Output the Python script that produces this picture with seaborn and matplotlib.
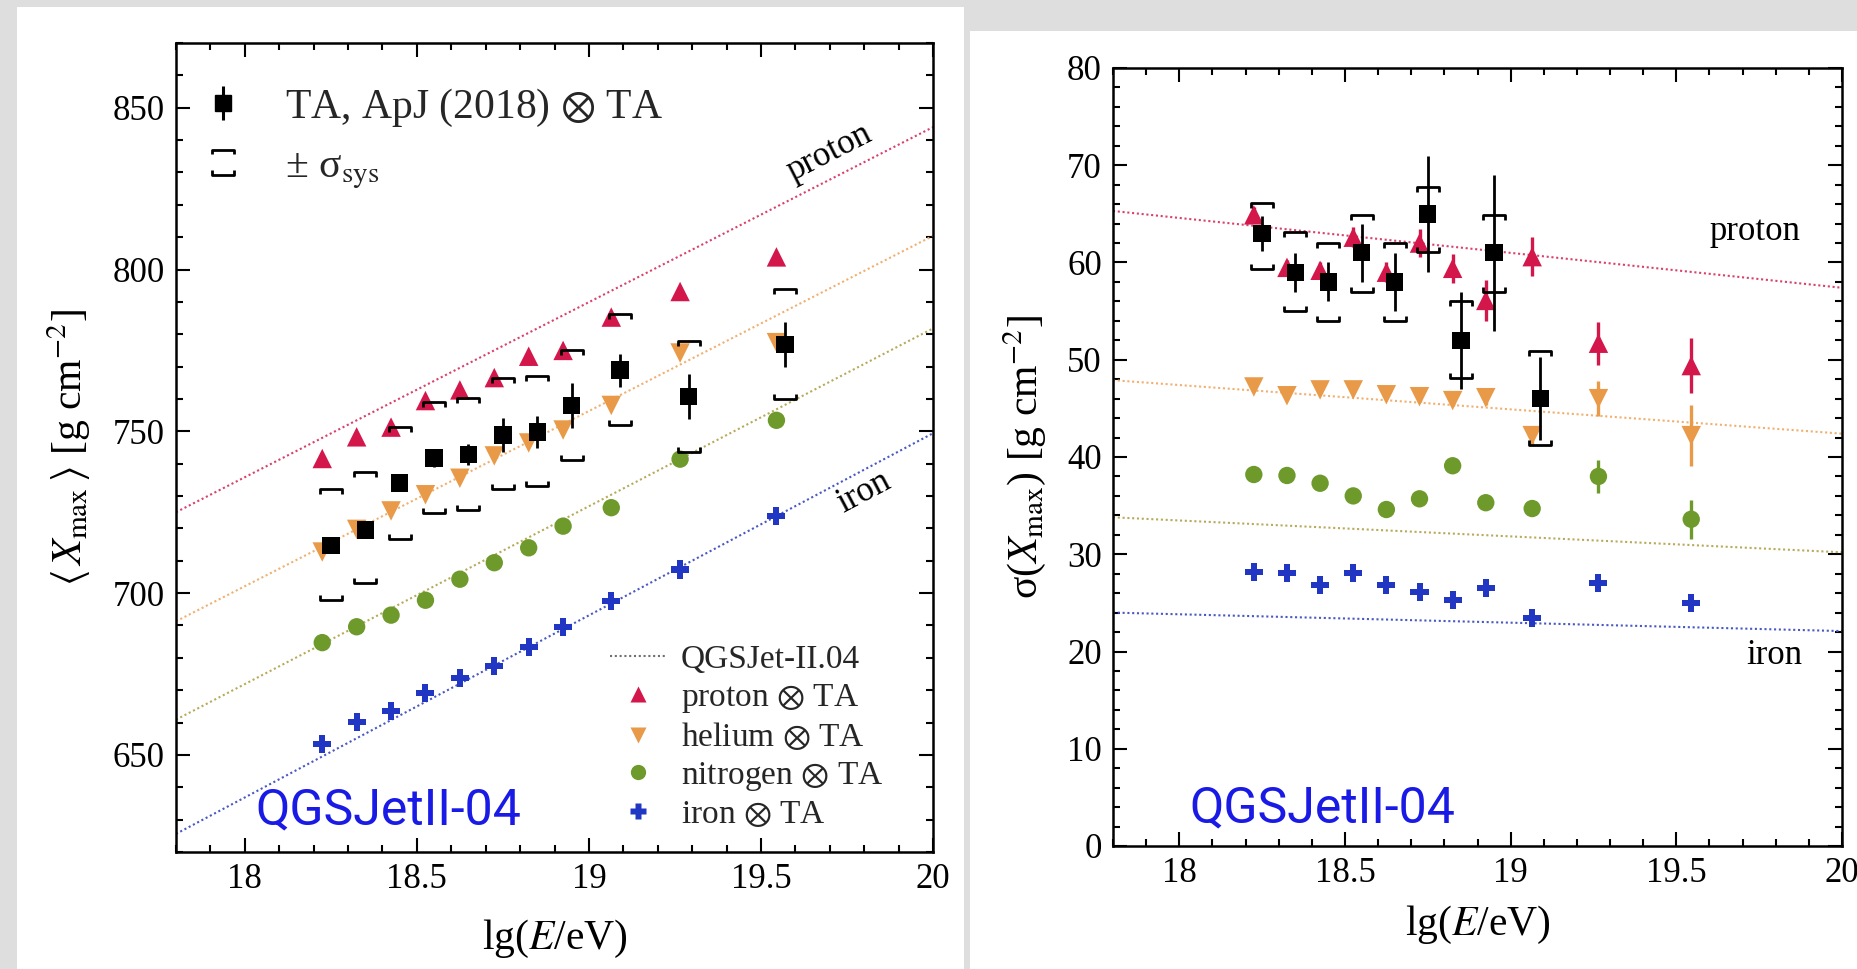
import numpy as np
import pandas as pd
import matplotlib
matplotlib.use("Agg")
import matplotlib.pyplot as plt
import seaborn as sns
from matplotlib.path import Path
from matplotlib.markers import MarkerStyle
from matplotlib.lines import Line2D
from matplotlib.legend_handler import HandlerTuple
from matplotlib.patches import Rectangle
from matplotlib.ticker import MultipleLocator, FuncFormatter

# ---------------- data ----------------
lgE_mc = [18.225, 18.325, 18.425, 18.525, 18.625, 18.725, 18.825, 18.925, 19.065, 19.265, 19.545]
lgE_ta = [18.25, 18.35, 18.45, 18.55, 18.65, 18.75, 18.85, 18.95, 19.09, 19.29, 19.57]

# <Xmax> panel
xmax_proton = [741.6, 748.3, 751.3, 759.5, 762.8, 766.6, 773.2, 775.0, 785.3, 793.2, 803.9]
xmax_helium = [712.7, 719.7, 725.4, 730.4, 735.5, 742.4, 746.4, 750.4, 758.0, 774.2, 777.4]
xmax_nitrogen = [684.7, 689.6, 693.2, 697.8, 704.3, 709.4, 714.0, 720.7, 726.4, 741.4, 753.4]
xmax_iron = [653.4, 660.3, 663.5, 669.0, 673.8, 677.4, 683.3, 689.4, 697.6, 707.3, 723.7]
xmax_ta = [714.8, 719.5, 734.0, 741.8, 742.8, 748.9, 749.8, 758.0, 768.9, 760.7, 776.9]
xmax_ta_stat = [2.0, 2.0, 2.0, 2.7, 3.2, 5.2, 5.0, 7.0, 5.1, 7.0, 7.0]
xmax_ta_sys_up = [17.5, 18.0, 17.3, 17.2, 17.5, 17.5, 17.3, 17.0, 17.3, 17.3, 17.1]
xmax_ta_sys_lo = [16.8, 16.5, 17.3, 16.9, 17.2, 16.8, 16.6, 17.0, 16.8, 17.2, 17.0]

model_lgE = [17.8, 20.0]
xmax_line_proton = [725.0, 844.0]
xmax_line_helium = [691.3, 810.4]
xmax_line_nitrogen = [660.9, 781.8]
xmax_line_iron = [625.6, 749.4]

# sigma(Xmax) panel
sig_proton = [64.9, 59.5, 59.2, 62.6, 59.0, 62.0, 59.4, 56.1, 60.6, 51.7, 49.4]
sig_proton_err = [0.8, 0.8, 0.8, 1.0, 1.0, 1.4, 1.5, 2.1, 2.0, 2.2, 2.8]
sig_helium = [47.2, 46.3, 46.9, 46.9, 46.4, 46.2, 45.8, 46.1, 42.2, 46.0, 42.2]
sig_helium_err = [0.4, 0.4, 0.4, 0.4, 0.4, 0.5, 0.6, 0.8, 1.0, 1.8, 3.1]
sig_nitrogen = [38.2, 38.1, 37.3, 36.0, 34.6, 35.7, 39.1, 35.3, 34.7, 38.0, 33.6]
sig_nitrogen_err = [0.3, 0.3, 0.3, 0.3, 0.3, 0.4, 0.5, 0.6, 0.7, 1.7, 2.0]
sig_iron = [28.2, 28.1, 26.8, 28.1, 26.8, 26.1, 25.3, 26.5, 23.4, 27.0, 25.0]
sig_ta = [63, 59, 58, 61, 58, 65, 52, 61, 46]
sig_ta_stat = [1.8, 2.0, 2.0, 3.0, 3.0, 6.0, 5.0, 8.0, 4.3]
sig_ta_sys_up = [3.1, 4.1, 4.0, 3.9, 4.0, 2.8, 4.0, 3.9, 4.9]
sig_ta_sys_lo = [3.7, 4.0, 4.0, 4.0, 4.0, 3.9, 3.9, 4.0, 4.8]

sig_line_proton = [65.3, 57.4]
sig_line_helium = [47.9, 42.4]
sig_line_nitrogen = [33.8, 30.2]
sig_line_iron = [24.0, 22.1]

# ---------------- style ----------------
sns.set_theme(style="ticks")
plt.rcParams["font.family"] = ["Liberation Serif", "DejaVu Serif"]
plt.rcParams["mathtext.fontset"] = "stix"

C_P = "#d4174b"
C_HE = "#e89a48"
C_N = "#6e9a2c"
C_FE = "#2137c4"
L_P = "#d9406a"
L_HE = "#f0b070"
L_N = "#b8aa5a"
L_FE = "#4858c4"
DOT = (0, (1, 1.3))

W, H = 1858, 969
fig = plt.figure(figsize=(W / 100, H / 100), dpi=100)
fig.patch.set_facecolor("#dedede")
fig.add_artist(Rectangle((17 / W, 0), (964 - 17) / W, (969 - 7) / H,
                         transform=fig.transFigure, facecolor="white",
                         edgecolor="none", zorder=0))
fig.add_artist(Rectangle((970 / W, 0), (1858 - 970) / W, (969 - 31) / H,
                         transform=fig.transFigure, facecolor="white",
                         edgecolor="none", zorder=0))

ax1 = fig.add_axes([176 / W, 1 - 852 / H, 757 / W, 809 / H])
ax2 = fig.add_axes([1113 / W, 1 - 846 / H, 729 / W, 778 / H])

# bracket markers
up_br = MarkerStyle(Path([(-1, -0.45), (-1, 0), (1, 0), (1, -0.45)],
                         [Path.MOVETO, Path.LINETO, Path.LINETO, Path.LINETO]))
lo_br = MarkerStyle(Path([(-1, 0.45), (-1, 0), (1, 0), (1, 0.45)],
                         [Path.MOVETO, Path.LINETO, Path.LINETO, Path.LINETO]))
pair_br = MarkerStyle(Path([(-1, 0.73), (-1, 1.14), (1, 1.14), (1, 0.73),
                            (-1, -0.73), (-1, -1.14), (1, -1.14), (1, -0.73)],
                           [Path.MOVETO, Path.LINETO, Path.LINETO, Path.LINETO,
                            Path.MOVETO, Path.LINETO, Path.LINETO, Path.LINETO]))


def style_axes(ax, ylim, ymaj, ymin, xlabelpad):
    ax.set_facecolor("white")
    ax.set_xlim(17.8, 20.0)
    ax.set_ylim(*ylim)
    ax.xaxis.set_major_locator(MultipleLocator(0.5))
    ax.xaxis.set_minor_locator(MultipleLocator(0.1))
    ax.yaxis.set_major_locator(MultipleLocator(ymaj))
    ax.yaxis.set_minor_locator(MultipleLocator(ymin))
    ax.xaxis.set_major_formatter(FuncFormatter(lambda v, p: f"{v:g}"))
    ax.yaxis.set_major_formatter(FuncFormatter(lambda v, p: f"{v:g}"))
    ax.tick_params(which="both", direction="in", top=True, right=True,
                   color="black", labelsize=25, labelcolor="black")
    ax.tick_params(which="major", length=10, width=1.5, pad=8)
    ax.tick_params(which="minor", length=5, width=1.5)
    for s in ax.spines.values():
        s.set_visible(True)
        s.set_linewidth(1.8)
        s.set_color("black")
    ax.set_xlabel(r"lg($E$/eV)", fontsize=30, labelpad=xlabelpad, color="black")


def draw_panel(ax, lines, mc, mc_err, ta, ta_stat, sys_up, sys_lo):
    lcols = [L_P, L_HE, L_N, L_FE]
    for yv, c in zip(lines, lcols):
        sns.lineplot(x=model_lgE, y=yv, ax=ax, color=c, linestyle=DOT,
                     linewidth=1.5, zorder=1, legend=False)
    specs = [("^", C_P, 14), ("v", C_HE, 14), ("o", C_N, 12.5), ("P", C_FE, 13)]
    for i, (yv, (m, c, ms)) in enumerate(zip(mc, specs)):
        if mc_err is not None and mc_err[i] is not None:
            ax.errorbar(lgE_mc, yv, yerr=mc_err[i], fmt="none", ecolor=c,
                        elinewidth=2.4, capsize=0, zorder=2)
        sns.scatterplot(x=lgE_mc, y=yv, ax=ax, marker=m, color=c, s=ms ** 2,
                        edgecolor="none", linewidth=0, zorder=3, legend=False)
    n = len(ta)
    xt = lgE_ta[:n]
    ax.errorbar(xt, ta, yerr=ta_stat, fmt="none", ecolor="black",
                elinewidth=2.0, capsize=0, zorder=4)
    top = [a + b for a, b in zip(ta, sys_up)]
    bot = [a - b for a, b in zip(ta, sys_lo)]
    ax.plot(xt, top, ls="none", marker=up_br, ms=16, mfc="none",
            mec="black", mew=2.0, zorder=4)
    ax.plot(xt, bot, ls="none", marker=lo_br, ms=16, mfc="none",
            mec="black", mew=2.0, zorder=4)
    sns.scatterplot(x=xt, y=ta, ax=ax, marker="s", color="black", s=12.5 ** 2,
                    edgecolor="none", linewidth=0, zorder=5, legend=False)


# ---------------- left panel ----------------
style_axes(ax1, (620, 870), 50, 10, 16)
draw_panel(ax1,
           [xmax_line_proton, xmax_line_helium, xmax_line_nitrogen, xmax_line_iron],
           [xmax_proton, xmax_helium, xmax_nitrogen, xmax_iron], None,
           xmax_ta, xmax_ta_stat, xmax_ta_sys_up, xmax_ta_sys_lo)
ax1.set_ylabel(r"$\langle\, X_{\rm max}\,\rangle$ [g cm$^{-2}$]", fontsize=30,
               labelpad=14, color="black")
ax1.text(19.70, 836, "proton", rotation=27, ha="center", va="center",
         rotation_mode="anchor", fontsize=25, color="black")
ax1.text(19.80, 731, "iron", rotation=28, ha="center", va="center",
         rotation_mode="anchor", fontsize=25, color="black")
ax1.text(18.03, 628.6, "QGSJetII-04", family="Roboto", fontsize=36,
         color="#1a1ae6", ha="left", va="baseline")

h_ta = (Line2D([], [], ls="none", marker="|", ms=24, mew=2.2, color="black"),
        Line2D([], [], ls="none", marker="s", ms=12, color="black"))
h_sys = Line2D([], [], ls="none", marker=pair_br, ms=18, mfc="none",
               mec="black", mew=2.0)
leg1 = ax1.legend([h_ta, h_sys], [r"TA, ApJ (2018) $\otimes$ TA", "± σ" + r"$_{\rm sys}$"],
                  handler_map={tuple: HandlerTuple(ndivide=1, pad=0)},
                  loc="upper left", bbox_to_anchor=(0.026, 0.946),
                  borderaxespad=0, borderpad=0, frameon=False, fontsize=30,
                  handlelength=1.3, handletextpad=0.85, labelspacing=0.45)
ax1.add_artist(leg1)

h_model = Line2D([], [], color="#707070", ls=DOT, lw=1.5)
h_p = Line2D([], [], ls="none", marker="^", ms=12, color=C_P, mec="none")
h_he = Line2D([], [], ls="none", marker="v", ms=12, color=C_HE, mec="none")
h_n = Line2D([], [], ls="none", marker="o", ms=11, color=C_N, mec="none")
h_fe = Line2D([], [], ls="none", marker="P", ms=11, color=C_FE, mec="none")
ax1.legend([h_model, h_p, h_he, h_n, h_fe],
           ["QGSJet-II.04", r"proton $\otimes$ TA", r"helium $\otimes$ TA",
            r"nitrogen $\otimes$ TA", r"iron $\otimes$ TA"],
           loc="lower right", bbox_to_anchor=(0.934, 0.027), borderaxespad=0,
           borderpad=0, frameon=False, fontsize=24, handlelength=1.7,
           handletextpad=0.42, labelspacing=0.2)

# ---------------- right panel ----------------
style_axes(ax2, (0, 80), 10, 2, 10)
draw_panel(ax2,
           [sig_line_proton, sig_line_helium, sig_line_nitrogen, sig_line_iron],
           [sig_proton, sig_helium, sig_nitrogen, sig_iron],
           [sig_proton_err, sig_helium_err, sig_nitrogen_err, None],
           sig_ta, sig_ta_stat, sig_ta_sys_up, sig_ta_sys_lo)
ax2.set_ylabel("σ(" + r"$X_{\rm max}$" + r") [g cm$^{-2}$]", fontsize=30,
               labelpad=14, color="black")
ax2.text(19.6, 63.2, "proton", ha="left", va="center", fontsize=25, color="black")
ax2.text(19.71, 19.6, "iron", ha="left", va="center", fontsize=25, color="black")
ax2.text(18.03, 2.4, "QGSJetII-04", family="Roboto", fontsize=36,
         color="#1a1ae6", ha="left", va="baseline")

fig.savefig("out.png", dpi=100, facecolor=fig.get_facecolor())
